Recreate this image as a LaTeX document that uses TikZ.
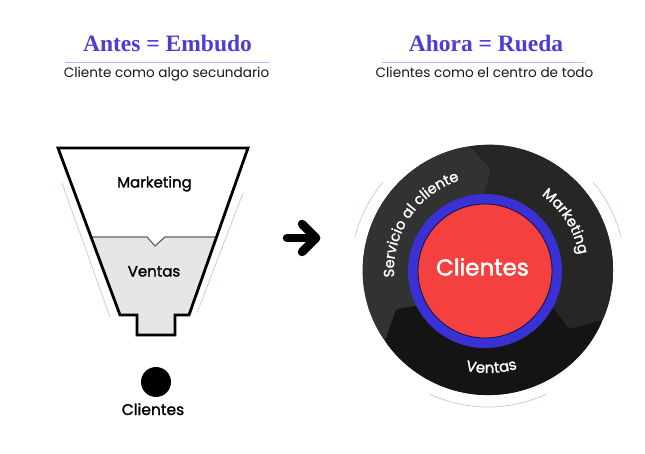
\documentclass[tikz,border=0pt]{standalone}
\usepackage{fontspec}
\setmainfont{Poppins}
\newfontfamily\titlefont{Liberation Serif}
\newfontfamily\medfont[FakeBold=1.5]{Poppins}
\newfontfamily\semifont[FakeBold=2]{Poppins}
\usetikzlibrary{decorations.text}
\definecolor{titlepurple}{RGB}{74,62,211}
\definecolor{lav}{RGB}{187,183,240}
\definecolor{faint}{RGB}{205,202,246}
\definecolor{wred}{RGB}{244,64,62}
\definecolor{wblue}{RGB}{58,49,212}
\definecolor{segA}{RGB}{50,50,50}
\definecolor{segB}{RGB}{38,38,38}
\definecolor{segC}{RGB}{20,20,20}
\definecolor{fgray}{RGB}{230,230,230}
\definecolor{lgray}{RGB}{100,100,100}
\newcommand{\wheelfont}{\medfont\fontsize{14.5}{14.5}\selectfont}
\tikzset{
  titletext/.style={anchor=base, text=titlepurple, font=\titlefont\bfseries\fontsize{23.5}{24}\selectfont, inner sep=0},
  subtext/.style={anchor=base, text=black!90, font=\fontsize{13.6}{14}\selectfont, inner sep=0},
  rule/.style={lav, line width=1.5pt},
  flabel/.style={anchor=base, font=\medfont\fontsize{15}{16}\selectfont, inner sep=0},
  faintline/.style={faint, line width=0.8pt},
  funnelline/.style={black, line width=2.8pt, line join=miter},
  arrowline/.style={black, line width=8.5pt, line cap=round, line join=round},
}
\begin{document}
\begin{tikzpicture}[x=1pt,y=-1pt]
\useasboundingbox (0,0) rectangle (645,454);
\fill[white] (0,0) rectangle (645,454);

% headings
\node[titletext] (t1) at (167.5,52) {Antes = Embudo};
\draw[rule] (65,62.5) -- (270,62.5);
\node[subtext] (s1) at (166.5,77.5) {Cliente como algo secundario};

\node[titletext] (t2) at (486,52) {Ahora = Rueda};
\draw[rule] (382,62.5) -- (585,62.5);
\node[subtext] (s2) at (484.5,77.5) {Clientes como el centro de todo};

% funnel
\draw[faintline] (62,183) -- (110,317);
\draw[faintline] (243,193) -- (197,313);
\fill[fgray] (91,237) -- (147,237) -- (155,246) -- (165,237) -- (217,237) -- (189,315) -- (175,315) -- (175,335) -- (137,335) -- (137,315) -- (120,315) -- cycle;
\draw[lgray, line width=1.2pt] (91,237) -- (147,237) -- (155,246) -- (165,237) -- (217,237);
\draw[funnelline] (58,148) -- (248,148) -- (189,315) -- (175,315) -- (175,335) -- (137,335) -- (137,315) -- (120,315) -- cycle;
\node[flabel] (fm) at (154.5,187.5) {Marketing};
\node[flabel] (fv) at (154,276.5) {Ventas};

\node[circle, fill=black, minimum size=30pt, inner sep=0] (dot) at (156,382) {};
\node[flabel, font=\medfont\fontsize{15.5}{16}\selectfont] (dotlabel) at (153,415) {Clientes};

% arrow
\coordinate (a1) at (287,238);
\coordinate (a2) at (316,238);
\coordinate (h1) at (302,224);
\coordinate (h2) at (302,252);
\draw[arrowline] (a1) -- (a2);
\draw[arrowline] (h1) -- (a2) -- (h2);

% wheel
\begin{scope}[shift={(488,270)}]
  \draw[faintline] (194:137) arc (194:220:137);
  \draw[faintline] (346:137) arc (346:320:137);
  \draw[faintline] (65:137) arc (65:115:137);
  \fill[segC] (0,0) circle (125);
  \fill[segC, rounded corners=3pt] (23.5:125) arc (23.5:145.5:125) -- (157:100) -- (151:70) arc (151:28:70) -- (36:100) -- cycle;
  \fill[segA, rounded corners=3pt] (145.5:125) arc (145.5:262:125) -- (272:100) -- (265:70) arc (265:151:70) -- (157:100) -- cycle;
  \fill[segB, rounded corners=3pt] (262:125) arc (262:383.5:125) -- (396:100) -- (388:70) arc (388:265:70) -- (272:100) -- cycle;
  \path[decorate, decoration={text along path, text align=center, text={|\wheelfont\color{white}|Servicio al cliente}}] (159:94) arc (159:269:94);
  \path[decorate, decoration={text along path, text align=center, text={|\wheelfont\color{white}|Marketing}}] (288:92) arc (288:368:92);
  \path[decorate, decoration={text along path, text align=center, text={|\medfont\fontsize{15}{15}\selectfont\color{white}|Ventas}}] (118:103) arc (118:58:103);
  \node[circle, fill=wred, draw=wblue, line width=10pt, minimum size=144pt, inner sep=0] (hub) at (-3,1) {};
  \draw[black!70!wblue, line width=0.8pt] (hub.center) circle (67);
\end{scope}
\node[anchor=base, text=white, font=\semifont\fontsize{23}{24}\selectfont, inner sep=0] (hubtext) at (482.5,275.5) {Clientes};
\end{tikzpicture}
\end{document}
